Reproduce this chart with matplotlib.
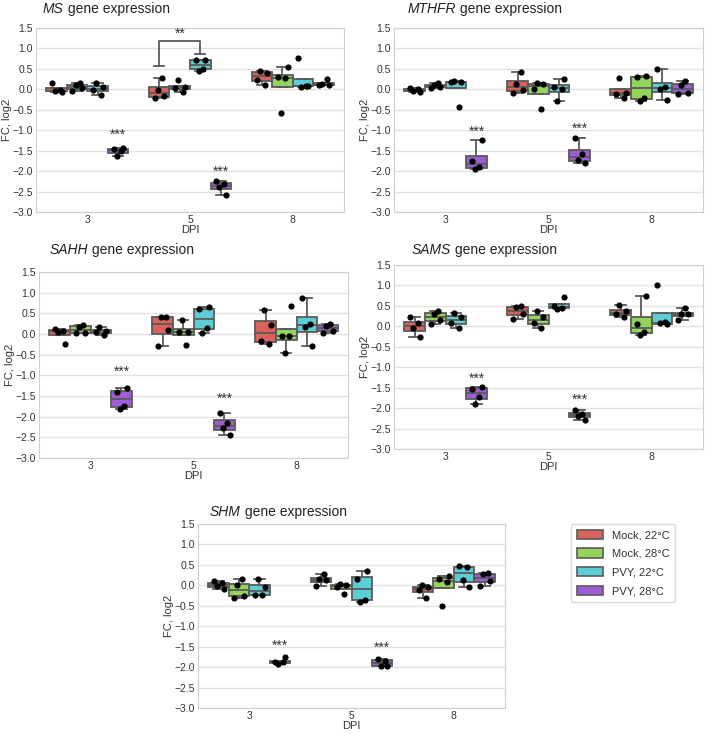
import numpy as np
import matplotlib.pyplot as plt
from matplotlib.patches import Patch

plt.rcParams['font.family'] = ['Liberation Sans', 'DejaVu Sans']

# categories
days = ['3', '5', '8']
groups = ['Mock, 22°C', 'Mock, 28°C', 'PVY, 22°C', 'PVY, 28°C']
colors = ['#d9625b', '#93d45a', '#5ccdd6', '#a05cd6']

# FC, log2 values per day -> per group (4 replicates each)
ms = [
    [[0.15, -0.02, -0.04, -0.06], [0.15, 0.10, 0.03, -0.05], [0.15, 0.05, -0.02, -0.15], [-1.43, -1.47, -1.52, -1.63]],
    [[0.28, -0.01, -0.17, -0.22], [0.22, 0.05, 0.04, -0.07], [0.72, 0.71, 0.50, 0.45], [-2.25, -2.32, -2.40, -2.58]],
    [[0.45, 0.40, 0.23, 0.10], [0.55, 0.30, 0.27, -0.57], [0.77, 0.08, 0.05, 0.08], [0.25, 0.12, 0.10, 0.10]],
]
mthfr = [
    [[0.03, 0.00, -0.03, -0.07], [0.15, 0.10, 0.05, 0.03], [0.20, 0.18, 0.17, -0.42], [-1.25, -1.75, -1.90, -1.95]],
    [[0.42, 0.13, -0.02, -0.10], [0.15, 0.13, 0.02, -0.47], [0.25, 0.05, 0.02, -0.28], [-1.18, -1.58, -1.73, -1.80]],
    [[0.28, -0.08, -0.12, -0.20], [0.32, 0.30, -0.22, -0.28], [0.50, 0.05, 0.00, -0.27], [0.20, 0.10, -0.08, -0.12]],
]
sahh = [
    [[0.12, 0.08, 0.06, -0.25], [0.22, 0.17, 0.03, 0.03], [0.18, 0.08, 0.05, -0.02], [-1.30, -1.40, -1.75, -1.82]],
    [[0.42, 0.40, 0.10, -0.30], [0.35, 0.05, 0.05, -0.27], [0.65, 0.60, 0.15, 0.02], [-1.92, -2.15, -2.28, -2.45]],
    [[0.58, 0.22, -0.18, -0.23], [0.67, -0.05, -0.05, -0.45], [0.88, 0.25, 0.17, -0.30], [0.25, 0.20, 0.08, 0.03]],
]
sams = [
    [[0.23, 0.07, -0.05, -0.27], [0.37, 0.30, 0.15, 0.05], [0.33, 0.22, 0.08, -0.05], [-1.48, -1.53, -1.72, -1.90]],
    [[0.50, 0.47, 0.30, 0.18], [0.38, 0.23, 0.08, -0.05], [0.72, 0.50, 0.45, 0.43], [-2.05, -2.15, -2.20, -2.28]],
    [[0.53, 0.37, 0.30, 0.22], [0.75, 0.05, -0.15, -0.20], [1.00, 0.10, 0.07, 0.05], [0.45, 0.30, 0.30, 0.15]],
]
shm = [
    [[0.10, 0.05, -0.02, -0.08], [0.15, 0.00, -0.25, -0.30], [0.15, -0.03, -0.23, -0.23], [-1.75, -1.87, -1.88, -1.92]],
    [[0.27, 0.15, 0.13, -0.02], [0.03, 0.00, -0.03, -0.22], [0.35, 0.15, -0.35, -0.40], [-1.80, -1.85, -1.97, -1.98]],
    [[0.00, -0.05, -0.12, -0.30], [0.23, 0.15, 0.07, -0.50], [0.48, 0.45, 0.13, -0.03], [0.30, 0.27, 0.10, -0.02]],
]

# height of "***" above PVY 28°C boxes at 3 and 5 DPI
ms_stars = [-1.12, -2.02]
mthfr_stars = [-1.05, -0.97]
sahh_stars = [-0.92, -1.57]
sams_stars = [-1.28, -1.80]
shm_stars = [-1.47, -1.52]

W, H = 709, 734
fig = plt.figure(figsize=(W / 100, H / 100), dpi=100)

EDGE = '#5a5a5a'
jitter = [-0.045, 0.03, -0.015, 0.05]


def add_ax(l, t, r, b):
    return fig.add_axes([l / W, 1 - b / H, (r - l) / W, (b - t) / H])


def panel(ax, data, stars, gene, tx, ty):
    ax.set_axisbelow(True)
    ax.grid(axis='y', color='#e2e2e2', lw=1)
    for s in ax.spines.values():
        s.set_color('#d0d0d0')
    for d, day in enumerate(data):
        for g, vals in enumerate(day):
            pos = d + (g - 1.5) * 0.2
            ax.boxplot([vals], positions=[pos], widths=0.2, patch_artist=True,
                       showfliers=False, manage_ticks=False,
                       boxprops=dict(facecolor=colors[g], edgecolor=EDGE, lw=1.3),
                       medianprops=dict(color=EDGE, lw=1.3),
                       whiskerprops=dict(color=EDGE, lw=1.3),
                       capprops=dict(color=EDGE, lw=1.3))
            xs = [pos + jitter[(i + g + d) % 4] for i in range(len(vals))]
            ax.scatter(xs, vals, s=20, color='black', zorder=3, lw=0)
    for d, y in enumerate(stars):
        ax.text(d + 0.3, y, '***', ha='center', va='center', fontsize=10, color='#333333')
    ax.set_xlim(-0.5, 2.5)
    ax.set_ylim(-3, 1.5)
    ax.set_xticks(range(3))
    ax.set_xticklabels(days)
    ax.set_yticks(np.arange(-3, 1.51, 0.5))
    ax.set_yticklabels([f'{v:.1f}'.replace('-', '\u2212') for v in np.arange(-3, 1.51, 0.5)])
    ax.tick_params(length=0, labelsize=7.5, colors='#333333', pad=2.5)
    ax.set_xlabel('DPI', fontsize=8, color='#333333', labelpad=0)
    ax.set_ylabel('FC, log2', fontsize=8, color='#333333', labelpad=0)
    t1 = fig.text(tx / W, 1 - ty / H, gene, style='italic', fontsize=10,
                  va='center', color='#222222')
    ax.annotate(' gene expression', xy=(1, 0.5), xycoords=t1, va='center',
                fontsize=10, color='#222222')


ax1 = add_ax(36, 28, 344, 212)
panel(ax1, ms, ms_stars, 'MS', 43, 9)
# significance bracket between Mock 22°C and PVY 22°C at 5 DPI
bx = [0.7, 0.7, 1.1, 1.1]
by = [0.57, 1.18, 1.18, 0.86]
ax1.plot(bx, by, color=EDGE, lw=1.3)
ax1.plot([0.65, 0.75], [0.57, 0.57], color=EDGE, lw=1.3)
ax1.plot([1.05, 1.15], [0.86, 0.86], color=EDGE, lw=1.3)
ax1.text(0.9, 1.36, '**', ha='center', va='center', fontsize=10, color='#333333')

ax2 = add_ax(394, 28, 703, 212)
panel(ax2, mthfr, mthfr_stars, 'MTHFR', 408, 9)

ax3 = add_ax(39, 272, 348, 458)
panel(ax3, sahh, sahh_stars, 'SAHH', 50, 250)

ax4 = add_ax(394, 265, 703, 449)
panel(ax4, sams, sams_stars, 'SAMS', 412, 250)

ax5 = add_ax(198, 524, 505, 708)
panel(ax5, shm, shm_stars, 'SHM', 210, 512)

handles = [Patch(facecolor=c, edgecolor=EDGE, lw=1.2) for c in colors]
leg = fig.legend(handles, groups, loc='lower left',
                 bbox_to_anchor=(571 / W, 1 - 602 / H), fontsize=8,
                 handlelength=2.4, handleheight=0.9, labelspacing=0.75,
                 handletextpad=0.8, borderpad=0.5, frameon=True, borderaxespad=0)
leg.get_frame().set_edgecolor('#d0d0d0')
for t in leg.get_texts():
    t.set_color('#333333')

fig.savefig('out.png', dpi=100)
